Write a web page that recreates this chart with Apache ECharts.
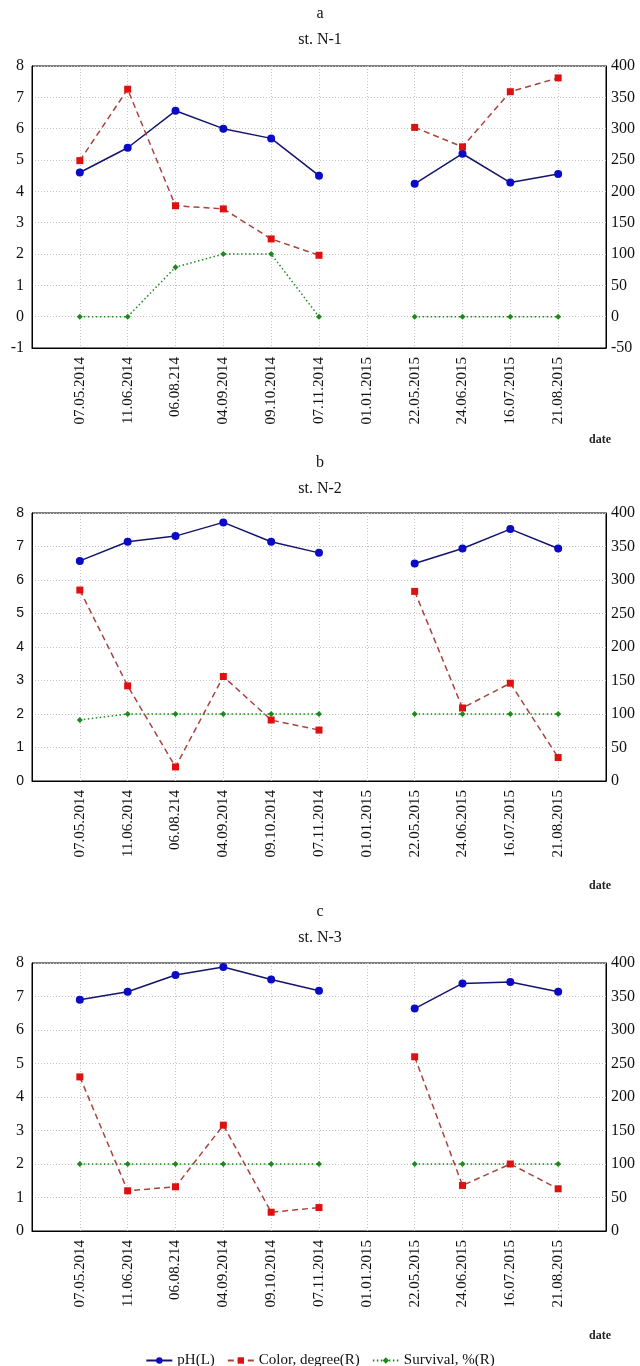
<!DOCTYPE html>
<html>
<head>
<meta charset="utf-8">
<script src="https://cdn.jsdelivr.net/npm/echarts@6/dist/echarts.min.js"></script>
<style>
html,body{margin:0;padding:0;background:#fff;}
#chart{width:640px;height:1366px;}
</style>
</head>
<body>
<div id="chart"></div>
<script>
// ---- data ----
const categories = ['07.05.2014','11.06.2014','06.08.214','04.09.2014','09.10.2014','07.11.2014','01.01.2015','22.05.2015','24.06.2015','16.07.2015','21.08.2015'];

const phA    = [4.60, 5.39, 6.57, 6.00, 5.69, 4.50, null, 4.24, 5.20, 4.28, 4.55];
const colorA = [249, 363, 177, 172, 124, 98, null, 302, 271, 359, 381];
const survA  = [0, 0, 79, 100, 100, 0, null, 0, 0, 0, 0];

const phB    = [6.57, 7.14, 7.31, 7.72, 7.14, 6.81, null, 6.49, 6.94, 7.52, 6.94];
const colorB = [285, 142, 21, 156, 91, 76, null, 283, 109, 146, 35];
const survB  = [91, 100, 100, 100, 100, 100, null, 100, 100, 100, 100];

const phC    = [6.90, 7.14, 7.64, 7.88, 7.51, 7.17, null, 6.64, 7.39, 7.43, 7.14];
const colorC = [230, 60, 66, 158, 28, 35, null, 260, 68, 100, 63];
const survC  = [100, 100, 100, 100, 100, 100, null, 100, 100, 100, 100];

const panelLetters = ['a', 'b', 'c'];
const panelNames = ['st. N-1', 'st. N-2', 'st. N-3'];
const leftRanges = [[-1, 8], [0, 8], [0, 8]];
const rightRanges = [[-50, 400], [0, 400], [0, 400]];
const seriesNames = ['pH(L)', 'Color, degree(R)', 'Survival, %(R)'];

// ---- layout / style ----
const SERIF = '"Liberation Serif", "Times New Roman", serif';
const SANS = '"Liberation Sans", Arial, sans-serif';
const grids = [
  {top: 66, height: 282},
  {top: 513, height: 268},
  {top: 963, height: 268}
];
const titleTops = [-4, 445, 894];
const dateTops = [429, 875, 1325];
const leftFonts = [SERIF, SANS, SERIF];

const gridLine = {show: true, lineStyle: {color: '#c4c4c4', type: [1, 2], width: 1}};

const toPairs = arr => arr.map((v, i) => [i, v == null ? '-' : v]);

const option = {
  animation: false,
  backgroundColor: '#fff',
  title: [],
  grid: [],
  xAxis: [],
  yAxis: [],
  series: [],
  legend: {
    left: 'center',
    top: 1348,
    itemWidth: 26,
    itemHeight: 8,
    itemGap: 12,
    textStyle: {fontFamily: SERIF, fontSize: 15, color: '#111'},
    data: seriesNames
  }
};

for (let p = 0; p < 3; p++) {
  option.title.push({
    text: panelLetters[p] + '\n' + panelNames[p],
    left: 'center',
    top: titleTops[p],
    textStyle: {fontFamily: SERIF, fontSize: 16, fontWeight: 'normal', color: '#111', lineHeight: 26}
  });
  option.title.push({
    text: 'date',
    left: 584,
    top: dateTops[p],
    textStyle: {fontFamily: SERIF, fontSize: 12, fontWeight: 'bold', color: '#222'}
  });
  option.grid.push({
    left: 32, right: 34, top: grids[p].top, height: grids[p].height,
    show: true, borderColor: '#000', borderWidth: 1, backgroundColor: 'transparent'
  });
  option.xAxis.push({
    type: 'value', gridIndex: p, min: -1, max: 11, interval: 1,
    axisLine: {show: true, onZero: false, lineStyle: {color: '#000', width: 1}},
    axisTick: {show: false},
    splitLine: gridLine,
    axisLabel: {
      rotate: 90, margin: 9, fontFamily: SERIF, fontSize: 15, color: '#111',
      formatter: v => (v >= 0 && v < categories.length) ? categories[v] : ''
    }
  });
  option.yAxis.push({
    type: 'value', gridIndex: p, position: 'left',
    min: leftRanges[p][0], max: leftRanges[p][1], interval: 1,
    axisLine: {show: true, onZero: false, lineStyle: {color: '#000'}},
    axisTick: {show: false},
    splitLine: gridLine,
    axisLabel: {margin: 8, fontFamily: leftFonts[p], fontSize: p === 1 ? 14 : 16, color: '#111'}
  });
  option.yAxis.push({
    type: 'value', gridIndex: p, position: 'right',
    min: rightRanges[p][0], max: rightRanges[p][1], interval: 50,
    axisLine: {show: true, onZero: false, lineStyle: {color: '#000'}},
    axisTick: {show: false},
    splitLine: {show: false},
    axisLabel: {margin: 5, fontFamily: SERIF, fontSize: 16, color: '#111'}
  });
}

const phs = [phA, phB, phC], colors = [colorA, colorB, colorC], survs = [survA, survB, survC];
for (let p = 0; p < 3; p++) {
  option.series.push({
    name: seriesNames[0], type: 'line', xAxisIndex: p, yAxisIndex: 2 * p,
    data: toPairs(phs[p]), connectNulls: false,
    symbol: 'circle', symbolSize: 8,
    lineStyle: {color: '#14146a', width: 1.5},
    itemStyle: {color: '#0a0ac8'}, z: 3
  });
  option.series.push({
    name: seriesNames[1], type: 'line', xAxisIndex: p, yAxisIndex: 2 * p + 1,
    data: toPairs(colors[p]), connectNulls: false,
    symbol: 'rect', symbolSize: 7,
    lineStyle: {color: '#a8443e', width: 1.5, type: [6, 4]},
    itemStyle: {color: '#e01010'}, z: 4
  });
  option.series.push({
    name: seriesNames[2], type: 'line', xAxisIndex: p, yAxisIndex: 2 * p + 1,
    data: toPairs(survs[p]), connectNulls: false,
    symbol: 'diamond', symbolSize: 6,
    lineStyle: {color: '#1f8a1f', width: 1.5, type: [1.5, 2.5]},
    itemStyle: {color: '#1a8a1a'}, z: 2
  });
}

const chart = echarts.init(document.getElementById('chart'), null, {renderer: 'canvas'});
chart.setOption(option);
</script>
</body>
</html>
